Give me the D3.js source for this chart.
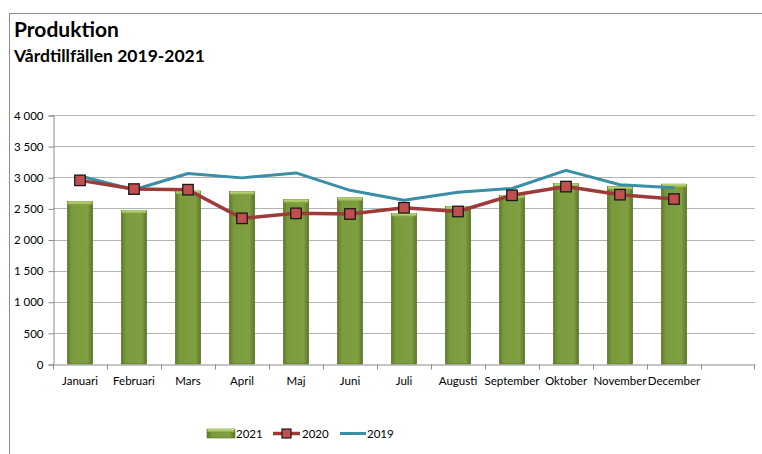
<html>
<body style="margin:0;background:#fff">
<meta charset="utf-8">
<script src="https://d3js.org/d3.v7.min.js"></script>
<div id="chart"></div>
<script>
// data
var months = ["Januari", "Februari", "Mars", "April", "Maj", "Juni", "Juli",
              "Augusti", "September", "Oktober", "November", "December", ""];
var v2021 = [2610, 2470, 2780, 2770, 2640, 2670, 2420, 2530, 2710, 2900, 2850, 2890];
var v2020 = [2950, 2810, 2800, 2340, 2420, 2410, 2510, 2450, 2710, 2850, 2720, 2650];
var v2019 = [3020, 2800, 3060, 2990, 3070, 2790, 2630, 2760, 2820, 3110, 2880, 2830];
var yTicks = [0, 500, 1000, 1500, 2000, 2500, 3000, 3500, 4000];
var seriesNames = ["2021", "2020", "2019"];

var W = 762, H = 454;
var plot = {left: 53, right: 755, top: 115, bottom: 364};
var font = "Lato, 'Open Sans', sans-serif";

var svg = d3.select("#chart").append("svg")
  .attr("width", W).attr("height", H);

// bar gradient
var defs = svg.append("defs");
var g1 = defs.append("linearGradient").attr("id", "barg")
  .attr("x1", 0).attr("x2", 1).attr("y1", 0).attr("y2", 0);
g1.append("stop").attr("offset", "0%").attr("stop-color", "#5e7a2b");
g1.append("stop").attr("offset", "18%").attr("stop-color", "#7a9b3d");
g1.append("stop").attr("offset", "80%").attr("stop-color", "#7f9f41");
g1.append("stop").attr("offset", "100%").attr("stop-color", "#5a7428");
var g2 = defs.append("linearGradient").attr("id", "bartop")
  .attr("x1", 0).attr("x2", 0).attr("y1", 0).attr("y2", 1);
g2.append("stop").attr("offset", "0%").attr("stop-color", "#c6e07e");
g2.append("stop").attr("offset", "100%").attr("stop-color", "#8cae4a");

// outer frame
svg.append("rect")
  .attr("x", 9.5).attr("y", 13.5).attr("width", 800).attr("height", 500)
  .attr("fill", "none").attr("stroke", "#8c8c8c").attr("stroke-width", 1);

// titles
svg.append("text").attr("x", 14).attr("y", 37)
  .style("font-family", font).style("font-weight", "bold").style("font-size", "21px")
  .attr("fill", "#000").text("Produktion");
svg.append("text").attr("x", 14).attr("y", 62)
  .style("font-family", font).style("font-weight", "bold").style("font-size", "17.5px")
  .attr("fill", "#000").text("Vårdtillfällen 2019-2021");

var x = d3.scaleBand().domain(months).range([plot.left, plot.right]);
var y = d3.scaleLinear().domain([0, 4000]).range([plot.bottom, plot.top]);

var fmt = function(d) { return d3.format(",")(d).replace(",", " "); };

// grid lines
svg.append("g").selectAll("line").data(yTicks.slice(1)).enter().append("line")
  .attr("x1", plot.left).attr("x2", plot.right)
  .attr("y1", function(d) { return Math.round(y(d)) + 0.5; })
  .attr("y2", function(d) { return Math.round(y(d)) + 0.5; })
  .attr("stroke", "#b4b4b4").attr("stroke-width", 1);

// y axis
var yAxis = svg.append("g")
  .attr("transform", "translate(" + (plot.left + 0.5) + ",0.5)")
  .call(d3.axisLeft(y).tickValues(yTicks).tickSize(5).tickPadding(5).tickFormat(fmt));
yAxis.selectAll("path, line").attr("stroke", "#8c8c8c");
yAxis.selectAll("text").style("font-family", font).style("font-size", "11.5px").attr("fill", "#000");

// x axis
var xAxis = svg.append("g")
  .attr("transform", "translate(0," + (Math.round(plot.bottom) + 0.5) + ")")
  .call(d3.axisBottom(x).tickSize(0).tickPadding(12));
xAxis.select("path").attr("stroke", "#8c8c8c");
xAxis.selectAll("text").style("font-family", font).style("font-size", "11.5px").attr("fill", "#000");
// x tick marks at band edges
xAxis.append("g").selectAll("line").data(months).enter().append("line")
  .attr("x1", function(d) { return Math.round(x(d)) + 0.5; })
  .attr("x2", function(d) { return Math.round(x(d)) + 0.5; })
  .attr("y1", 0).attr("y2", 5).attr("stroke", "#8c8c8c");
xAxis.append("line")
  .attr("x1", plot.right - 0.5).attr("x2", plot.right - 0.5)
  .attr("y1", 0).attr("y2", 5).attr("stroke", "#8c8c8c");

// bars (2021)
var bw = x.bandwidth() * 0.47;
var bars = svg.append("g");
bars.selectAll("rect.bar").data(v2021).enter().append("rect")
  .attr("class", "bar")
  .attr("x", function(d, i) { return x(months[i]) + (x.bandwidth() - bw) / 2; })
  .attr("y", function(d) { return y(d); })
  .attr("width", bw)
  .attr("height", function(d) { return y(0) - y(d); })
  .attr("fill", "url(#barg)")
  .attr("stroke", "#55702a").attr("stroke-width", 0.6);
bars.selectAll("rect.top").data(v2021).enter().append("rect")
  .attr("class", "top")
  .attr("x", function(d, i) { return x(months[i]) + (x.bandwidth() - bw) / 2 + 0.5; })
  .attr("y", function(d) { return y(d); })
  .attr("width", bw - 1).attr("height", 3)
  .attr("fill", "url(#bartop)");

var cx = function(d, i) { return x(months[i]) + x.bandwidth() / 2; };

// 2019 line
svg.append("path").datum(v2019)
  .attr("d", d3.line().x(cx).y(function(d) { return y(d); }))
  .attr("fill", "none").attr("stroke", "#3a8ea6").attr("stroke-width", 3)
  .attr("stroke-linejoin", "round");

// 2020 line with square markers
svg.append("path").datum(v2020)
  .attr("d", d3.line().x(cx).y(function(d) { return y(d); }))
  .attr("fill", "none").attr("stroke", "#9c3b39").attr("stroke-width", 3.5)
  .attr("stroke-linejoin", "round");
var ms = 10.5;
svg.append("g").selectAll("rect").data(v2020).enter().append("rect")
  .attr("x", function(d, i) { return cx(d, i) - ms / 2; })
  .attr("y", function(d) { return y(d) - ms / 2; })
  .attr("width", ms).attr("height", ms)
  .attr("fill", "#c0504d").attr("stroke", "#1a1a1a").attr("stroke-width", 1.3);

// legend
var lg = svg.append("g").style("font-family", font).style("font-size", "11.5px");
lg.append("rect").attr("x", 207).attr("y", 429).attr("width", 28).attr("height", 9)
  .attr("fill", "url(#barg)").attr("stroke", "#55702a").attr("stroke-width", 0.6);
lg.append("rect").attr("x", 207.5).attr("y", 429).attr("width", 27).attr("height", 3)
  .attr("fill", "url(#bartop)");
lg.append("text").attr("x", 236).attr("y", 438).text(seriesNames[0]);
lg.append("line").attr("x1", 273).attr("x2", 300).attr("y1", 433.5).attr("y2", 433.5)
  .attr("stroke", "#9c3b39").attr("stroke-width", 3.5);
lg.append("rect").attr("x", 282).attr("y", 429).attr("width", 9).attr("height", 9)
  .attr("fill", "#c0504d").attr("stroke", "#1a1a1a").attr("stroke-width", 1.2);
lg.append("text").attr("x", 302).attr("y", 438).text(seriesNames[1]);
lg.append("line").attr("x1", 340).attr("x2", 366).attr("y1", 433.5).attr("y2", 433.5)
  .attr("stroke", "#3a8ea6").attr("stroke-width", 3);
lg.append("text").attr("x", 367).attr("y", 438).text(seriesNames[2]);
</script>
</body>
</html>
